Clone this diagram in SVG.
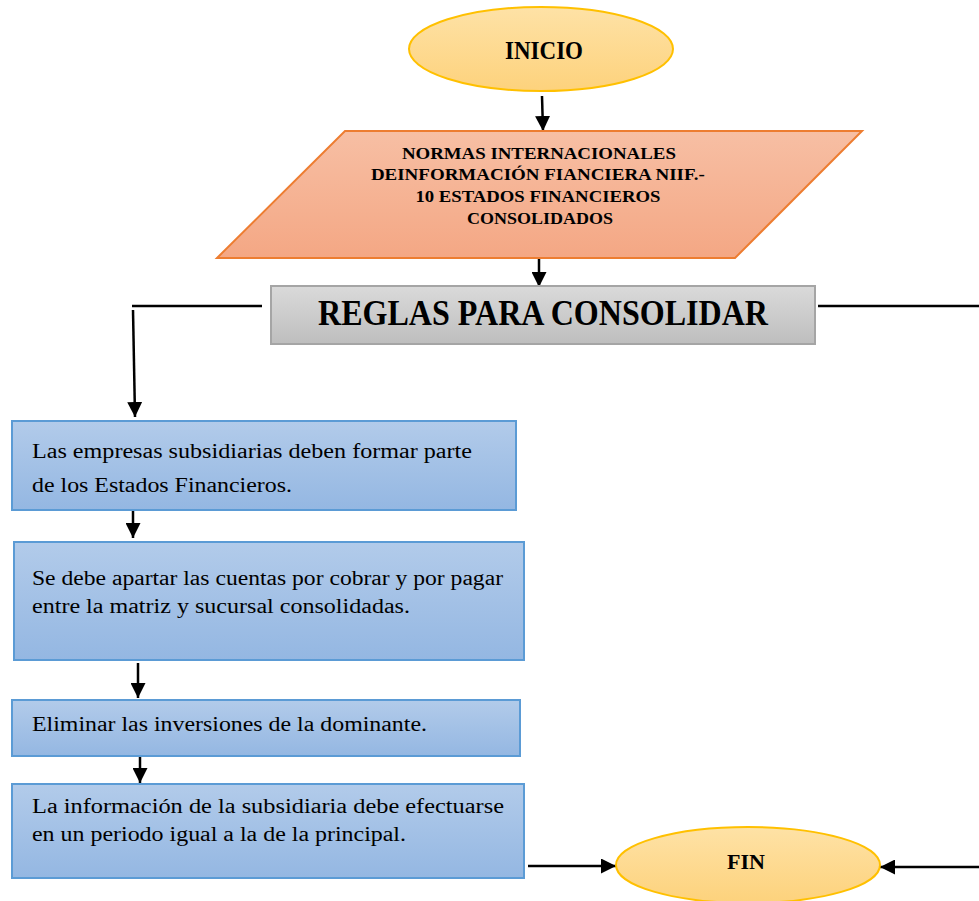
<svg xmlns="http://www.w3.org/2000/svg" width="979" height="901" viewBox="0 0 979 901">
<style>
.bold{font-family:"Liberation Serif",serif;font-weight:bold;fill:#000}
.reg{font-family:"Liberation Serif",serif;font-size:20px;fill:#000}
.blue{fill:url(#gBlue);stroke:#5b9bd5;stroke-width:2}
.conn{stroke:#000;stroke-width:2.5;fill:none}
</style>
<defs>
<linearGradient id="gYel" x1="0" y1="0" x2="0" y2="1"><stop offset="0" stop-color="#fee2a6"/><stop offset="1" stop-color="#fdd27c"/></linearGradient>
<linearGradient id="gOr" x1="0" y1="0" x2="0" y2="1"><stop offset="0" stop-color="#f7bfa4"/><stop offset="1" stop-color="#f4a784"/></linearGradient>
<linearGradient id="gGray" x1="0" y1="0" x2="0" y2="1"><stop offset="0" stop-color="#dadada"/><stop offset="1" stop-color="#bebebe"/></linearGradient>
<linearGradient id="gBlue" x1="0" y1="0" x2="0" y2="1"><stop offset="0" stop-color="#b2cbea"/><stop offset="1" stop-color="#94b7e2"/></linearGradient>
<marker id="ah" viewBox="0 0 10 10" refX="10" refY="5" markerWidth="6" markerHeight="6" orient="auto" markerUnits="strokeWidth"><path d="M0,0 L10,5 L0,10 Z" fill="#000"/></marker>
</defs>

<g id="connectors">
<line class="conn" x1="542" y1="96" x2="543" y2="131" marker-end="url(#ah)"/>
<line class="conn" x1="539" y1="259" x2="539" y2="287" marker-end="url(#ah)"/>
<line class="conn" x1="262" y1="306" x2="132" y2="306"/>
<line class="conn" x1="133" y1="310" x2="135" y2="417" marker-end="url(#ah)"/>
<line class="conn" x1="818" y1="306" x2="979" y2="306"/>
<line class="conn" x1="133" y1="507" x2="133" y2="538" marker-end="url(#ah)"/>
<line class="conn" x1="138" y1="663" x2="138" y2="698" marker-end="url(#ah)"/>
<line class="conn" x1="140" y1="755" x2="140" y2="783" marker-end="url(#ah)"/>
<line class="conn" x1="528" y1="866" x2="616" y2="866" marker-end="url(#ah)"/>
<line class="conn" x1="979" y1="867" x2="880" y2="867" marker-end="url(#ah)"/>
</g>

<g id="inicio">
<ellipse cx="541" cy="49" rx="132" ry="42" fill="url(#gYel)" stroke="#ffc000" stroke-width="2"/>
<text class="bold" x="544" y="59" font-size="26" text-anchor="middle" textLength="78" lengthAdjust="spacingAndGlyphs">INICIO</text>
</g>

<g id="normas">
<polygon points="345,131 862,131 735,258 217,258" fill="url(#gOr)" stroke="#ed7d31" stroke-width="2"/>
<text class="bold" font-size="17" text-anchor="middle">
<tspan x="541" y="159" textLength="274" lengthAdjust="spacingAndGlyphs">NORMAS INTERNACIONALES</tspan>
<tspan x="540" y="180" textLength="334" lengthAdjust="spacingAndGlyphs">DEINFORMACIÓN FIANCIERA NIIF.-</tspan>
<tspan x="540" y="202" textLength="245" lengthAdjust="spacingAndGlyphs">10 ESTADOS FINANCIEROS</tspan>
<tspan x="540" y="224" textLength="146" lengthAdjust="spacingAndGlyphs">CONSOLIDADOS</tspan>
</text>
</g>

<g id="reglas">
<rect x="271" y="286" width="544" height="58" fill="url(#gGray)" stroke="#a5a5a5" stroke-width="2"/>
<text class="bold" x="543" y="325" font-size="35" text-anchor="middle" textLength="450" lengthAdjust="spacingAndGlyphs">REGLAS PARA CONSOLIDAR</text>
</g>

<g id="paso1">
<rect class="blue" x="12" y="421" width="504" height="89"/>
<text class="reg"><tspan x="32" y="458" textLength="440" lengthAdjust="spacingAndGlyphs">Las empresas subsidiarias deben formar parte</tspan><tspan x="32" y="492" textLength="260" lengthAdjust="spacingAndGlyphs">de los Estados Financieros.</tspan></text>
</g>

<g id="paso2">
<rect class="blue" x="14" y="542" width="510" height="118"/>
<text class="reg"><tspan x="32" y="585" textLength="471" lengthAdjust="spacingAndGlyphs">Se debe apartar las cuentas por cobrar y por pagar</tspan><tspan x="32" y="613" textLength="378" lengthAdjust="spacingAndGlyphs">entre la matriz y sucursal consolidadas.</tspan></text>
</g>

<g id="paso3">
<rect class="blue" x="12" y="700" width="508" height="56"/>
<text class="reg"><tspan x="32" y="731" textLength="395" lengthAdjust="spacingAndGlyphs">Eliminar las inversiones de la dominante.</tspan></text>
</g>

<g id="paso4">
<rect class="blue" x="12" y="784" width="512" height="94"/>
<text class="reg"><tspan x="32" y="813" textLength="472" lengthAdjust="spacingAndGlyphs">La información de la subsidiaria debe efectuarse</tspan><tspan x="32" y="841" textLength="374" lengthAdjust="spacingAndGlyphs">en un periodo igual a la de la principal.</tspan></text>
</g>

<g id="fin">
<ellipse cx="748" cy="865" rx="132" ry="38" fill="url(#gYel)" stroke="#ffc000" stroke-width="2"/>
<text class="bold" x="746" y="869" font-size="22" text-anchor="middle" textLength="38" lengthAdjust="spacingAndGlyphs">FIN</text>
</g>
</svg>
